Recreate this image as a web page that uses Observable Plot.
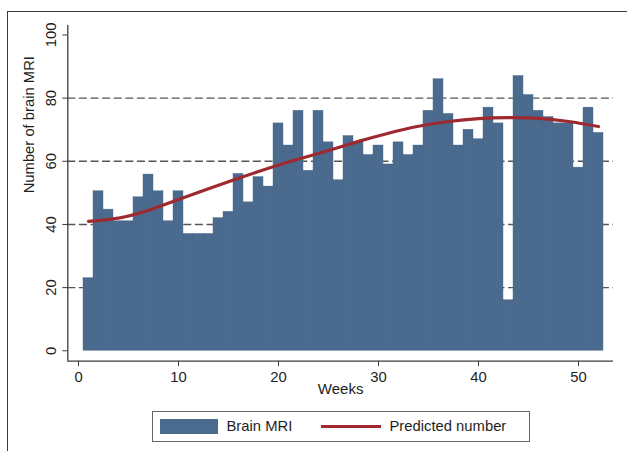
<!DOCTYPE html>
<html>
<head>
<meta charset="utf-8">
<script src="https://cdn.jsdelivr.net/npm/d3@7"></script>
<script src="https://cdn.jsdelivr.net/npm/@observablehq/plot@0.6"></script>
<style>
  html, body { margin: 0; padding: 0; background: #fff; overflow: hidden; }
  body { width: 627px; height: 451px; position: relative; font-family: "Liberation Sans", Arial, Helvetica, sans-serif; }
  #frame { position: absolute; left: 7px; top: 11px; width: 700px; height: 500px; border-left: 1.5px solid #3a3a3a; border-top: 1.5px solid #3a3a3a; }
  #chart { position: absolute; left: 0; top: 0; }
  #legend { position: absolute; left: 152px; top: 411px; width: 378px; height: 31px; box-sizing: border-box; border: 1.5px solid #666; background: #fff; }
  .sw { position: absolute; }
  .lt { position: absolute; font-size: 14.8px; color: #1e1e1e; line-height: 31px; top: -1.5px; }
</style>
</head>
<body>
<div id="frame"></div>
<div id="chart"></div>
<div id="legend">
  <div class="sw" style="left:6.5px; top:6.5px; width:58px; height:15px; background:#4a6a8e;"></div>
  <div class="lt" style="left:73.5px;">Brain MRI</div>
  <div class="sw" style="left:167.5px; top:13px; width:60px; height:3px; background:#9e2a30;"></div>
  <div class="lt" style="left:236.5px;">Predicted number</div>
</div>
<script>
// Weekly counts of brain MRI (weeks 1..52)
const weeks = d3.range(1, 53);
const counts = [23, 50.5, 44.7, 41, 41, 48.6, 55.8, 50.5, 41, 50.5,
                37, 37, 37, 42, 44, 56, 47, 55, 52, 72,
                65, 76, 57, 76, 66, 54, 68, 66, 62, 65,
                59, 66, 62, 65, 76, 86, 75, 65, 70, 67,
                77, 72, 16, 87, 81, 76, 74, 72, 72, 58,
                77, 69];
// Predicted number (fitted curve), read at selected weeks
const predWeeks = [1, 4, 7, 10, 13, 16, 19, 22, 25, 28, 31, 34, 37, 40, 43, 46, 49, 52];
const predValues = [41.0, 42.0, 44.5, 47.9, 51.3, 54.6, 57.8, 60.7, 63.4, 66.3, 68.9, 71.1, 72.6, 73.5, 73.8, 73.6, 72.6, 71.0];
const xTicks = [0, 10, 20, 30, 40, 50];
const yTicks = [0, 20, 40, 60, 80, 100];
const gridLines = [20, 40, 60, 80];

const xDomain = [-1.07, 53.5];
const yDomain = [-3.3, 103];

const bars = weeks.map((w, i) => ({week: w, n: counts[i]}));
const pred = predWeeks.map((w, i) => ({week: w, v: predValues[i]}));

const axisColor = "#3c3c3c";
const chart = Plot.plot({
  width: 627,
  height: 405,
  marginLeft: 67.3,
  marginRight: 14,
  marginTop: 25,
  marginBottom: 44.3,
  style: {fontFamily: '"Liberation Sans", Arial, Helvetica, sans-serif', fontSize: "14.8px", color: "#1e1e1e", background: "transparent"},
  x: {domain: xDomain, axis: null},
  y: {domain: yDomain, axis: null},
  marks: [
    Plot.ruleY(gridLines, {stroke: "#555", strokeWidth: 1.4, strokeDasharray: "8,3.6"}),
    Plot.rectY(bars, {x1: d => d.week - 0.5, x2: d => d.week + 0.5, y: "n", fill: "#4a6a8e", stroke: "#4a6a8e", strokeWidth: 0.4}),
    Plot.line(pred, {x: "week", y: "v", curve: "natural", stroke: "#9e2a30", strokeWidth: 3.2}),
    Plot.ruleX([xDomain[0]], {stroke: axisColor, strokeWidth: 1.3}),
    Plot.ruleY([yDomain[0]], {stroke: axisColor, strokeWidth: 1.3}),
    Plot.axisY({ticks: yTicks, tickSize: 5, tickPadding: 7, tickRotate: -90, label: null, stroke: axisColor, fill: "#1e1e1e"}),
    Plot.axisX({ticks: xTicks, tickSize: 5.5, tickPadding: 5, label: null, stroke: axisColor, fill: "#1e1e1e"}),
    Plot.text(["Weeks"], {frameAnchor: "bottom", dy: 32.5, fontSize: 15, fill: "#1e1e1e"}),
    Plot.text(["Number of brain MRI"], {frameAnchor: "left", rotate: -90, dx: -39, fontSize: 14.8, fill: "#1e1e1e"})
  ]
});
document.getElementById("chart").appendChild(chart);
</script>
</body>
</html>
